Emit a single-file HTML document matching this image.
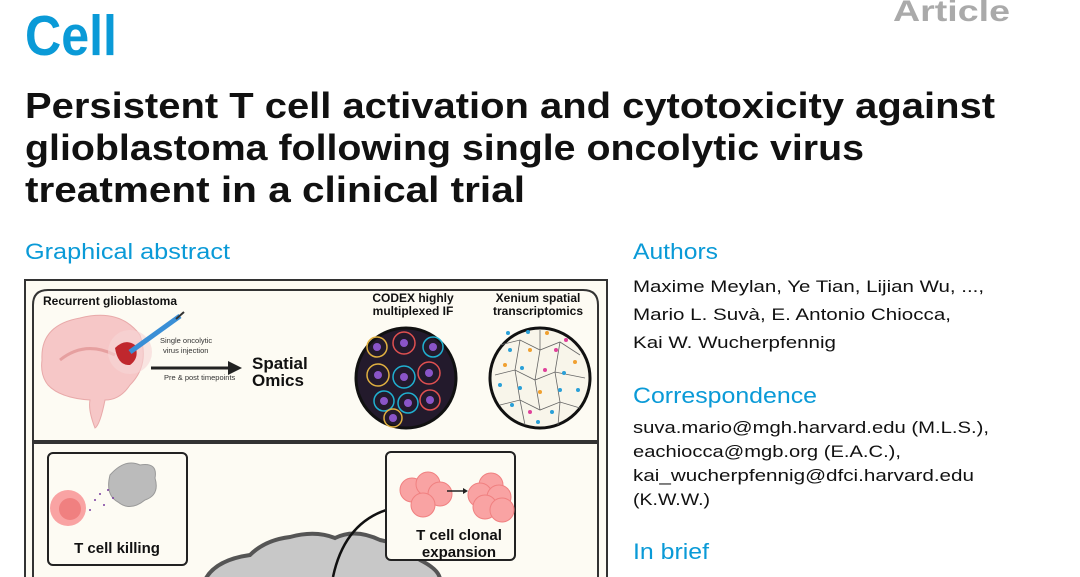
<!DOCTYPE html>
<html><head><meta charset="utf-8"><style>
html,body{margin:0;padding:0;background:#fff;width:1080px;height:577px;overflow:hidden}
svg{display:block}
text{font-family:"Liberation Sans",Arial,sans-serif}
</style></head><body>
<svg width="1080" height="577" viewBox="0 0 1080 577" xmlns="http://www.w3.org/2000/svg">
<text x="25" y="55" font-size="57" font-weight="bold" fill="#0a9ad7" textLength="92" lengthAdjust="spacingAndGlyphs">Cell</text>
<text x="893" y="21" font-size="30" font-weight="bold" fill="#aaaaaa" textLength="117" lengthAdjust="spacingAndGlyphs">Article</text>
<g font-size="36" font-weight="bold" fill="#111">
<text x="25" y="118" textLength="970" lengthAdjust="spacingAndGlyphs">Persistent T cell activation and cytotoxicity against</text>
<text x="25" y="160" textLength="839" lengthAdjust="spacingAndGlyphs">glioblastoma following single oncolytic virus</text>
<text x="25" y="202" textLength="500" lengthAdjust="spacingAndGlyphs">treatment in a clinical trial</text>
</g>
<g font-size="22" fill="#0a9ad7">
<text x="25" y="259" textLength="205" lengthAdjust="spacingAndGlyphs">Graphical abstract</text>
<text x="633" y="259" textLength="85" lengthAdjust="spacingAndGlyphs">Authors</text>
<text x="633" y="403" textLength="184" lengthAdjust="spacingAndGlyphs">Correspondence</text>
<text x="633" y="559" textLength="76" lengthAdjust="spacingAndGlyphs">In brief</text>
</g>
<g font-size="17" fill="#111">
<text x="633" y="292" textLength="351" lengthAdjust="spacingAndGlyphs">Maxime Meylan, Ye Tian, Lijian Wu, ...,</text>
<text x="633" y="320" textLength="318" lengthAdjust="spacingAndGlyphs">Mario L. Suvà, E. Antonio Chiocca,</text>
<text x="633" y="348" textLength="203" lengthAdjust="spacingAndGlyphs">Kai W. Wucherpfennig</text>
<text x="633" y="433" textLength="356" lengthAdjust="spacingAndGlyphs">suva.mario@mgh.harvard.edu (M.L.S.),</text>
<text x="633" y="457" textLength="268" lengthAdjust="spacingAndGlyphs">eachiocca@mgb.org (E.A.C.),</text>
<text x="633" y="481" textLength="341" lengthAdjust="spacingAndGlyphs">kai_wucherpfennig@dfci.harvard.edu</text>
<text x="633" y="505" textLength="77" lengthAdjust="spacingAndGlyphs">(K.W.W.)</text>
</g>
<!-- figure -->
<rect x="25" y="280" width="582" height="310" fill="#fdfbf3" stroke="#333" stroke-width="2"/>
<path d="M33 441 V305 Q33 290 48 290 H583 Q598 290 598 305 V441 Z" fill="#fdfbf3" stroke="#333" stroke-width="2"/>
<rect x="33" y="443" width="565" height="140" fill="#fdfbf3" stroke="#333" stroke-width="2"/>
<text x="43" y="305" font-size="12" font-weight="bold" fill="#111">Recurrent glioblastoma</text>
<!-- brain -->
<path d="M42 360 Q40 325 80 318 Q120 308 140 335 Q150 365 130 385 Q120 400 105 400 Q100 425 95 428 Q88 410 90 400 Q60 398 48 385 Q40 375 42 360Z" fill="#f6c7c7" stroke="#e8a9a9"/>
<path d="M60 360 Q85 340 115 355" fill="none" stroke="#e6a0a0" stroke-width="3"/>
<circle cx="130" cy="352" r="22" fill="#f7d6d6" opacity="0.6"/>
<path d="M115 348 Q125 338 135 345 Q140 358 130 365 Q118 366 115 348Z" fill="#c0272d"/>
<line x1="130" y1="352" x2="180" y2="316" stroke="#3a8fd6" stroke-width="5"/>
<line x1="176" y1="319" x2="184" y2="312" stroke="#333" stroke-width="2"/>
<text x="160" y="343" font-size="7.5" fill="#333">Single oncolytic</text>
<text x="163" y="353" font-size="7.5" fill="#333">virus injection</text>
<line x1="151" y1="368" x2="230" y2="368" stroke="#222" stroke-width="3"/>
<path d="M228 361 L242 368 L228 375Z" fill="#222"/>
<text x="164" y="380" font-size="7.5" fill="#333">Pre &amp; post timepoints</text>
<text x="252" y="369" font-size="17" font-weight="bold" fill="#111">Spatial</text>
<text x="252" y="386" font-size="17" font-weight="bold" fill="#111">Omics</text>
<text x="413" y="302" font-size="12" font-weight="bold" fill="#111" text-anchor="middle">CODEX highly</text>
<text x="413" y="315" font-size="12" font-weight="bold" fill="#111" text-anchor="middle">multiplexed IF</text>
<text x="538" y="302" font-size="12" font-weight="bold" fill="#111" text-anchor="middle">Xenium spatial</text>
<text x="538" y="315" font-size="12" font-weight="bold" fill="#111" text-anchor="middle">transcriptomics</text>
<circle cx="406" cy="378" r="50" fill="#231a2c" stroke="#111" stroke-width="3"/>
<g fill="none" stroke-width="1.5">
<circle cx="377" cy="347" r="10" stroke="#e0b040"/><circle cx="404" cy="343" r="11" stroke="#e05050"/><circle cx="433" cy="347" r="10" stroke="#20b0d0"/>
<circle cx="378" cy="375" r="11" stroke="#e0b040"/><circle cx="404" cy="377" r="11" stroke="#20b0d0"/><circle cx="429" cy="373" r="11" stroke="#e05050"/>
<circle cx="384" cy="401" r="10" stroke="#20b0d0"/><circle cx="408" cy="403" r="10" stroke="#20b0d0"/><circle cx="430" cy="400" r="10" stroke="#e05050"/><circle cx="393" cy="418" r="9" stroke="#e0b040"/>
</g>
<g fill="#8a55c8"><circle cx="377" cy="347" r="4"/><circle cx="404" cy="343" r="4"/><circle cx="433" cy="347" r="4"/><circle cx="378" cy="375" r="4"/><circle cx="404" cy="377" r="4"/><circle cx="429" cy="373" r="4"/><circle cx="384" cy="401" r="4"/><circle cx="408" cy="403" r="4"/><circle cx="430" cy="400" r="4"/><circle cx="393" cy="418" r="4"/></g>
<circle cx="540" cy="378" r="50" fill="#f8f5ea" stroke="#111" stroke-width="3"/>
<g stroke="#666" stroke-width="0.8" fill="none">
<path d="M500 345 L520 340 L540 350 L560 342 L580 355 M495 375 L515 370 L535 380 L555 372 L585 378 M500 405 L520 400 L540 410 L560 402 L580 408 M520 340 L515 370 L520 400 L525 425 M540 330 L540 350 L535 380 L540 410 M560 342 L555 372 L560 402 L558 425"/>
</g>
<g><circle cx="508" cy="333" r="2" fill="#2aa0d8"/><circle cx="528" cy="332" r="2" fill="#2aa0d8"/><circle cx="547" cy="333" r="2" fill="#f0a030"/><circle cx="566" cy="340" r="2" fill="#e0409a"/><circle cx="510" cy="350" r="2" fill="#2aa0d8"/><circle cx="530" cy="350" r="2" fill="#f0a030"/><circle cx="556" cy="350" r="2" fill="#e0409a"/><circle cx="575" cy="362" r="2" fill="#f0a030"/><circle cx="505" cy="365" r="2" fill="#f0a030"/><circle cx="522" cy="368" r="2" fill="#2aa0d8"/><circle cx="545" cy="370" r="2" fill="#e0409a"/><circle cx="564" cy="373" r="2" fill="#2aa0d8"/><circle cx="500" cy="385" r="2" fill="#2aa0d8"/><circle cx="520" cy="388" r="2" fill="#2aa0d8"/><circle cx="540" cy="392" r="2" fill="#f0a030"/><circle cx="560" cy="390" r="2" fill="#2aa0d8"/><circle cx="578" cy="390" r="2" fill="#2aa0d8"/><circle cx="512" cy="405" r="2" fill="#2aa0d8"/><circle cx="530" cy="412" r="2" fill="#e0409a"/><circle cx="552" cy="412" r="2" fill="#2aa0d8"/><circle cx="538" cy="422" r="2" fill="#2aa0d8"/></g>
<!-- lower -->
<path d="M205 580 Q215 560 250 555 Q265 540 290 537 Q315 530 335 538 Q355 528 380 540 Q405 545 420 560 Q440 570 440 580Z" fill="#c8c8c8" stroke="#555" stroke-width="4"/>
<path d="M393 508 Q345 520 333 577" fill="none" stroke="#111" stroke-width="2.5"/>
<rect x="48" y="453" width="139" height="112" rx="5" fill="#fdfbf3" stroke="#222" stroke-width="2"/>
<circle cx="68" cy="508" r="18" fill="#f9a3a3"/><circle cx="70" cy="509" r="11" fill="#f08080"/>
<path d="M110 475 Q125 458 140 465 Q158 462 155 478 Q160 495 145 500 Q130 512 118 502 Q105 495 110 475Z" fill="#bbb" stroke="#999"/>
<g fill="#7a3fa0"><circle cx="95" cy="500" r="1"/><circle cx="100" cy="494" r="1"/><circle cx="104" cy="505" r="1"/><circle cx="108" cy="490" r="1"/><circle cx="90" cy="510" r="1"/><circle cx="113" cy="498" r="1"/></g>
<text x="117" y="553" font-size="15" font-weight="bold" fill="#111" text-anchor="middle">T cell killing</text>
<rect x="386" y="452" width="129" height="108" rx="5" fill="#fdfbf3" stroke="#222" stroke-width="2"/>
<g fill="#f9a3a3" stroke="#f08080"><circle cx="412" cy="490" r="12"/><circle cx="428" cy="484" r="12"/><circle cx="440" cy="494" r="12"/><circle cx="423" cy="505" r="12"/><circle cx="491" cy="485" r="12"/><circle cx="480" cy="495" r="12"/><circle cx="499" cy="497" r="12"/><circle cx="485" cy="507" r="12"/><circle cx="502" cy="510" r="12"/></g>
<line x1="447" y1="491" x2="465" y2="491" stroke="#222" stroke-width="1.5"/><path d="M463 488 L468 491 L463 494Z" fill="#222"/>
<text x="459" y="540" font-size="15" font-weight="bold" fill="#111" text-anchor="middle">T cell clonal</text>
<text x="459" y="557" font-size="15" font-weight="bold" fill="#111" text-anchor="middle">expansion</text>
</svg>
</body></html>
